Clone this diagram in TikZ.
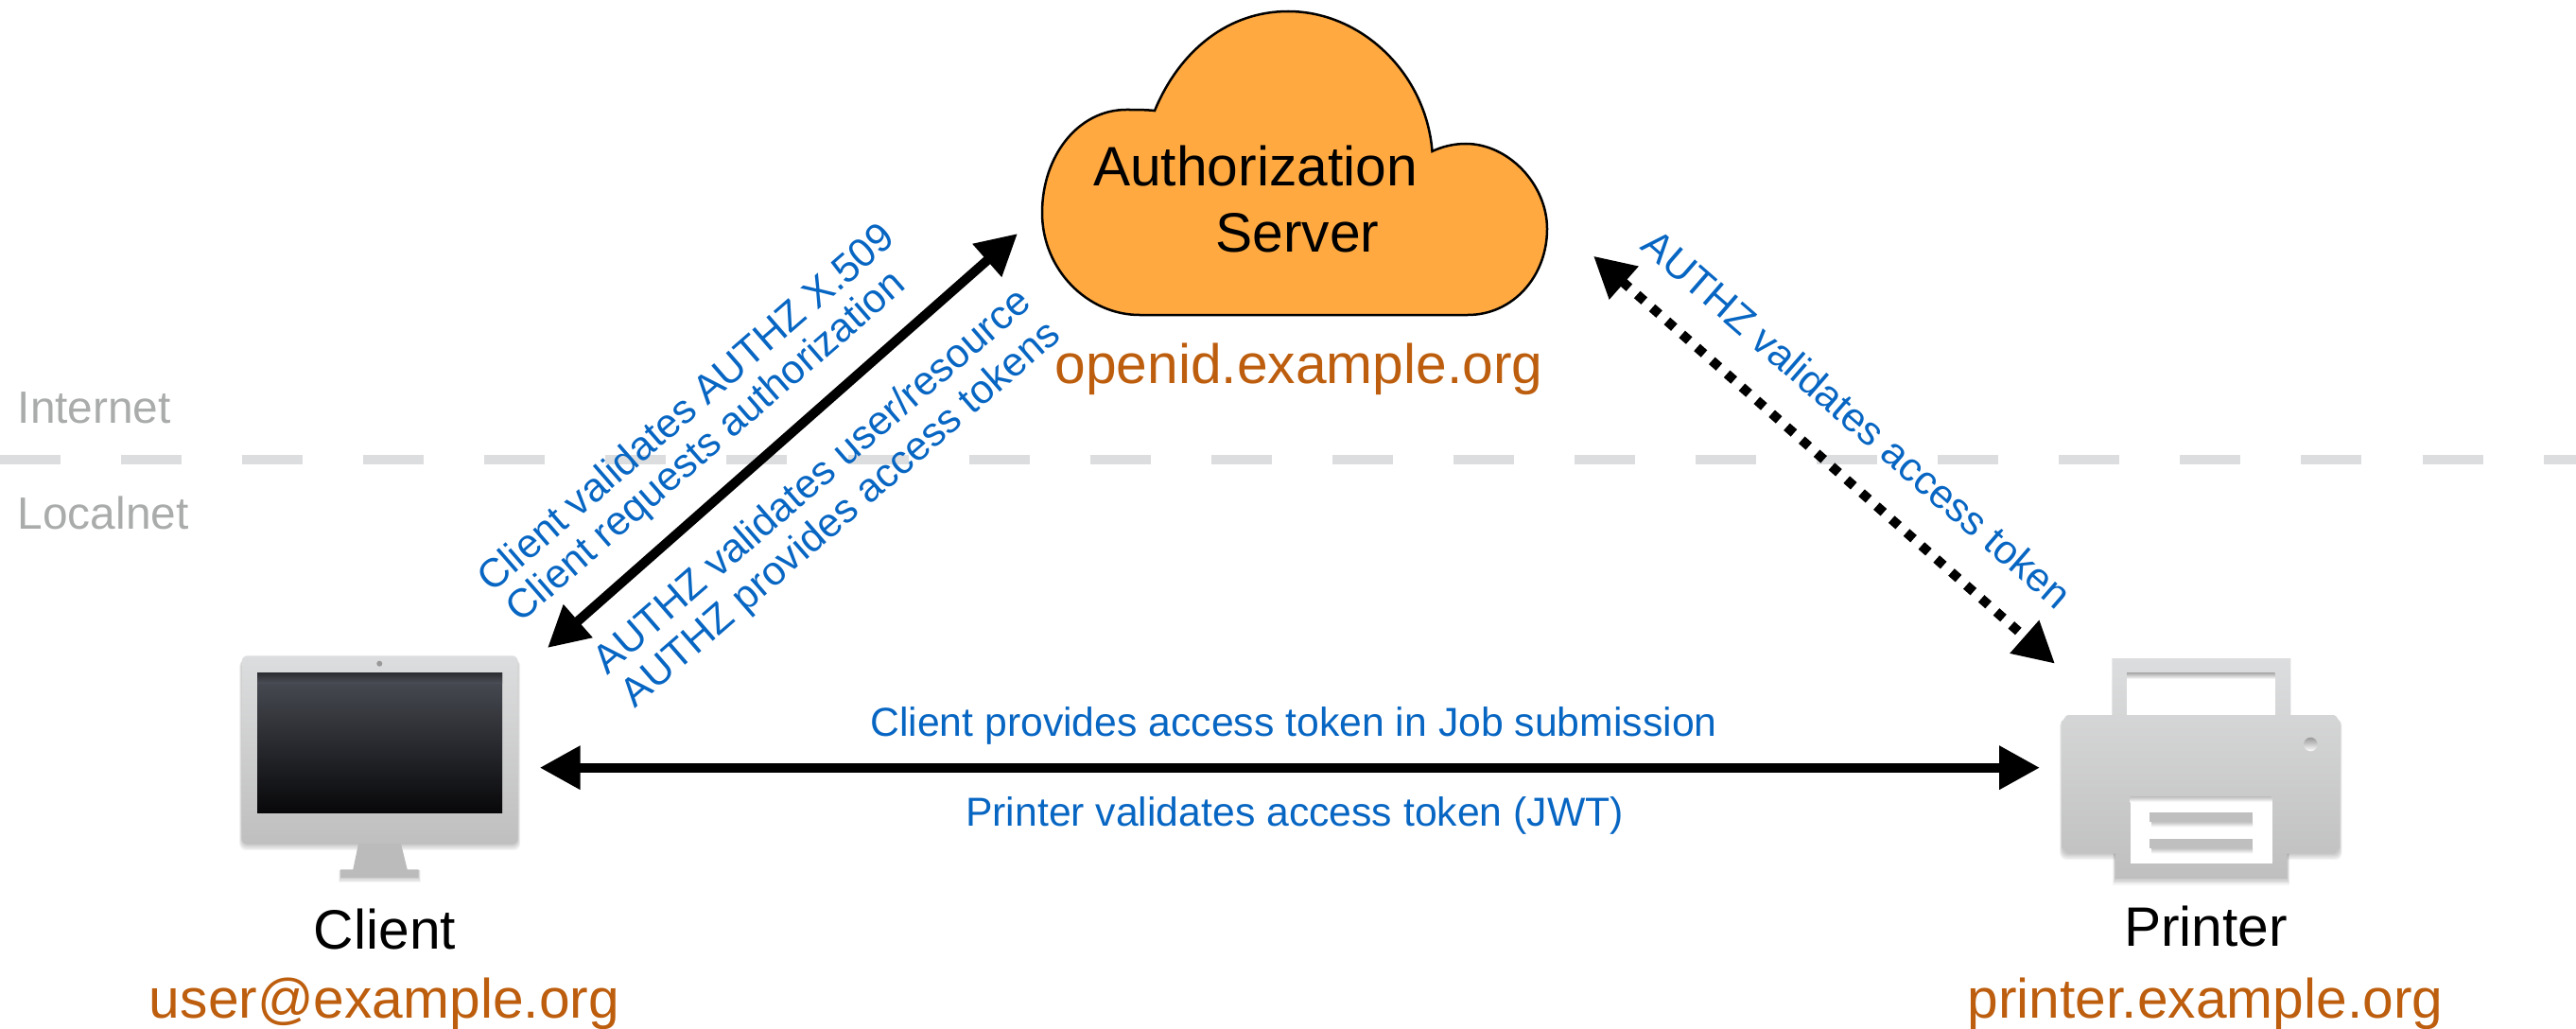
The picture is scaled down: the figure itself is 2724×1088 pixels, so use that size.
\documentclass[tikz,border=0pt]{standalone}
\usepackage{fontspec}
\setmainfont{Liberation Sans}
\usetikzlibrary{arrows.meta}
\definecolor{cloudfill}{HTML}{FFA940}
\definecolor{hostcol}{HTML}{BD5E0E}
\definecolor{notecol}{HTML}{0866C3}
\definecolor{netcol}{HTML}{A9ACAB}
\definecolor{dashcol}{HTML}{DCDDDE}
\definecolor{icontop}{HTML}{DCDDDE}
\definecolor{iconbot}{HTML}{BFBFBF}
\definecolor{scrtop}{HTML}{4A4D55}
\definecolor{scrbot}{HTML}{08080A}
\tikzset{
  bigtext/.style={font=\fontsize{16.7}{20}\selectfont,inner sep=0pt,anchor=base},
  hostname/.style={bigtext,text=hostcol},
  note/.style={font=\fontsize{12.15}{14.4}\selectfont,inner sep=0pt,text=notecol},
  zonetext/.style={font=\fontsize{13.6}{17}\selectfont,inner sep=0pt,anchor=base west,text=netcol},
  biarrow/.style={line width=0.10cm,
    {Triangle[length=0.43cm,width=0.44cm]}-{Triangle[length=0.43cm,width=0.44cm]}},
  dotarrow/.style={biarrow,dash pattern=on 0.10cm off 0.111cm},
  zoneline/.style={line width=0.10cm,dashcol,dash pattern=on 0.64cm off 0.64cm},
  softshade/.style={black,opacity=0.045}
}
\begin{document}
\begin{tikzpicture}[x=0.01cm,y=-0.01cm]
\useasboundingbox (0,0) rectangle (2724,1088);
% zone boundary
\coordinate (zoneL) at (0,486);
\coordinate (zoneR) at (2724,486);
\draw[zoneline] (zoneL) -- (zoneR);
\node[zonetext] (internet) at (18,447) {Internet};
\node[zonetext] (localnet) at (18,559) {Localnet};
% cloud
\draw[fill=cloudfill,line width=0.025cm]
  (1205,333) -- (1552,333)
  .. controls (1600,333) and (1636,292) .. (1636,242)
  .. controls (1636,195) and (1595,152) .. (1550,152)
  .. controls (1537,152) and (1525,155) .. (1514.5,160)
  .. controls (1508,78) and (1440,12) .. (1362,12)
  .. controls (1300,12) and (1248,52) .. (1221,117)
  .. controls (1212,116) and (1200,116) .. (1191,116)
  .. controls (1140,116) and (1102,165) .. (1102,225)
  .. controls (1102,285) and (1150,333) .. (1205,333) -- cycle;
\node[bigtext] (authz) at (1327.5,197) {Authorization};
\node[bigtext] (server) at (1372,266) {Server};
\node[hostname] (openid) at (1373.5,405) {openid.example.org};
% monitor
\foreach \d in {1,...,5}
  \fill[softshade,rounded corners=0.07cm] ({255.7-0.5*\d},697) rectangle ({547.7+0.5*\d},{892.7+1.3*\d});
\foreach \d in {1,...,4}
  \fill[softshade] ({360-0.4*\d},920) rectangle ({443+0.4*\d},{928+1.3*\d});
\shade[top color=icontop,bottom color=iconbot,rounded corners=0.06cm]
  (255.7,693.3) rectangle (547.7,892.7);
\fill[iconbot!98!black] (379,892) -- (424,892) -- (430.7,919.3) -- (442.7,919.3) -- (442.7,928.3)
  -- (360,928.3) -- (360,919.3) -- (373.3,919.3) -- cycle;
\shade[top color=scrtop,bottom color=scrbot] (272,711.7) rectangle (531,859);
\shade[top color=scrtop!60!black,bottom color=scrtop] (272,711.7) rectangle (531,722);
\fill[black!40] (401.3,701.7) circle[radius=3];
% printer
\foreach \d in {1,...,5} {
  \fill[softshade,rounded corners=0.07cm] ({2180.7-0.5*\d},760) rectangle ({2474+0.5*\d},{902.7+1.3*\d});
  \fill[softshade] ({2236.7-0.5*\d},900) rectangle ({2418.7+0.5*\d},{929+1.3*\d});
}
\shade[top color=icontop,bottom color=iconbot]
  (2233.3,696) -- (2422.3,696) -- (2422.3,756) -- (2468,756)
  to[out=0,in=-90] (2474,762) -- (2474,897) to[out=90,in=0] (2468,902.7)
  -- (2418.7,902.7) -- (2418.7,929) -- (2236.7,929) -- (2236.7,902.7) -- (2186.7,902.7)
  to[out=180,in=90] (2180.7,897) -- (2180.7,762) to[out=-90,in=180] (2186.7,756) -- (2233.3,756) -- cycle;
\fill[white] (2249,711.7) rectangle (2405.7,756);
\fill[white] (2252.7,842.3) rectangle (2402.7,913.3);
\shade[top color=black!32,bottom color=white] (2249,711.7) rectangle (2405.7,718);
\shade[top color=black!25,bottom color=white] (2252.7,842.3) rectangle (2402.7,848);
\foreach \yy in {859,887} {
  \shade[top color=black!22,bottom color=white] (2275,{\yy+10.3}) rectangle (2382,{\yy+15.5});
  \fill[iconbot] (2273.3,\yy) rectangle (2381.7,{\yy+10.3});
}
\shade[top color=black!40,bottom color=white] (2443.3,787) circle[radius=7.3];
% connectors
\coordinate (clientUp) at (579,685);
\coordinate (authUp) at (1076,247);
\coordinate (authRight) at (1685,270.7);
\coordinate (printerUp) at (2173,701.7);
\coordinate (clientSide) at (570.7,811.7);
\coordinate (printerSide) at (2157,811.7);
\draw[biarrow] (clientUp) -- (authUp);
\draw[dotarrow] (authRight) -- (printerUp);
\draw[biarrow] (clientSide) -- (printerSide);
% notes
\node[note,rotate=41] (n1) at (724.7,429.9) {Client validates AUTHZ X.509};
\node[note,rotate=41] (n2) at (747.7,473.5) {Client requests authorization};
\node[note,rotate=41] (n3) at (857.5,507) {AUTHZ validates user/resource};
\node[note,rotate=41] (n4) at (890.5,545) {AUTHZ provides access tokens};
\node[note,rotate=-41] (n5) at (1964,443) {AUTHZ validates access token};
\node[note,anchor=base] (n6) at (1368,778) {Client provides access token in Job submission};
\node[note,anchor=base] (n7) at (1369,873) {Printer validates access token (JWT)};
% host labels
\node[bigtext] (client) at (407,1003) {Client};
\node[hostname] (user) at (406.5,1076) {user@example.org};
\node[bigtext] (printer) at (2332.5,1000) {Printer};
\node[hostname] (printerhost) at (2332,1076) {printer.example.org};
\end{tikzpicture}
\end{document}
